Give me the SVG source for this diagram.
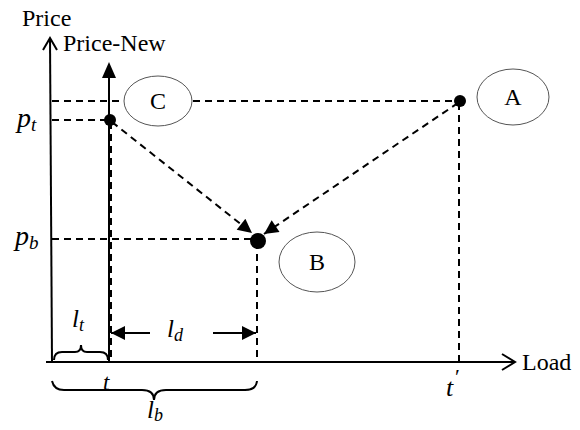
<svg xmlns="http://www.w3.org/2000/svg" width="580" height="430" viewBox="0 0 580 430">
<style>
text{font-family:'Liberation Serif','DejaVu Serif',serif;fill:#000}
.i{font-style:italic}
.ax{stroke:#000;stroke-width:2;fill:none}
.d{stroke:#000;stroke-width:2;stroke-dasharray:7,5;fill:none}
.el{fill:#fff;stroke:#555;stroke-width:1}
</style>
<defs>
<marker id="fa" viewBox="0 0 10 10" refX="10" refY="5" markerWidth="16" markerHeight="14" markerUnits="userSpaceOnUse" orient="auto">
<path d="M0,0 L10,5 L0,10 z" fill="#000"/>
</marker>
</defs>
<g id="axes">
<line class="ax" x1="52" y1="362" x2="50" y2="38"/>
<polyline class="ax" points="43,50 50,38 57,50"/>
<line class="ax" x1="109" y1="362" x2="109" y2="78"/>
<polygon points="102,78 116,78 109,62" fill="#000"/>
<line class="ax" x1="46" y1="362" x2="514" y2="362"/>
<polyline class="ax" points="502,354 515,362 502,370"/>
<text x="22" y="26" font-size="24">Price</text>
<text x="63" y="51" font-size="24">Price-New</text>
<text x="522" y="370" font-size="24">Load</text>
</g>
<g id="connectors">
<line class="d" x1="52" y1="101" x2="124" y2="101"/>
<line class="d" x1="193" y1="101" x2="458" y2="101"/>
<line class="d" x1="52" y1="120" x2="108" y2="120"/>
<line class="d" x1="52" y1="239" x2="256" y2="239"/>
<line class="d" x1="111" y1="122" x2="111" y2="362"/>
<line class="d" x1="257" y1="242" x2="257" y2="362"/>
<line class="d" x1="459" y1="103" x2="459" y2="362"/>
<line class="d" x1="112" y1="122" x2="252" y2="233" marker-end="url(#fa)"/>
<line class="d" x1="458" y1="103" x2="264" y2="234" marker-end="url(#fa)"/>
<line stroke="#000" stroke-width="2" x1="150" y1="333" x2="111" y2="333" marker-end="url(#fa)"/>
<line stroke="#000" stroke-width="2" x1="213" y1="333" x2="256" y2="333" marker-end="url(#fa)"/>
</g>
<g id="node-C">
<ellipse class="el" cx="158" cy="101" rx="34" ry="25"/>
<text x="158" y="109" font-size="24" text-anchor="middle">C</text>
<circle cx="110" cy="120" r="6" fill="#000"/>
</g>
<g id="node-A">
<ellipse class="el" cx="513" cy="97" rx="36" ry="28"/>
<text x="513" y="105" font-size="24" text-anchor="middle">A</text>
<circle cx="460" cy="101" r="6" fill="#000"/>
</g>
<g id="node-B">
<ellipse class="el" cx="317" cy="262" rx="38" ry="30"/>
<text x="317" y="270" font-size="24" text-anchor="middle">B</text>
<circle cx="258" cy="241" r="8" fill="#000"/>
</g>
<g id="labels">
<text class="i" x="17" y="127" font-size="28">p<tspan font-size="19" dy="4">t</tspan></text>
<text class="i" x="15" y="245" font-size="28">p<tspan font-size="19" dy="4">b</tspan></text>
<text class="i" x="72" y="327" font-size="25">l<tspan font-size="18" dy="4">t</tspan></text>
<text class="i" x="167" y="337" font-size="25">l<tspan font-size="18" dy="4">d</tspan></text>
<text class="i" x="147" y="418" font-size="25">l<tspan font-size="18" dy="3">b</tspan></text>
<text class="i" x="103" y="390" font-size="23">t</text>
<text class="i" x="446" y="396" font-size="26">t</text>
<text x="455" y="384" font-size="22">′</text>
<path class="ax" stroke-width="1.8" d="M54,360 Q54,352 62,352 L75,352 Q81,352 81,345 Q81,352 87,352 L100,352 Q108,352 108,360"/>
<path class="ax" stroke-width="1.8" d="M52,381 Q54,390 64,390 L142,390 Q154,390 154,400 Q154,390 166,390 L245,390 Q256,390 257,381"/>
</g>
</svg>
